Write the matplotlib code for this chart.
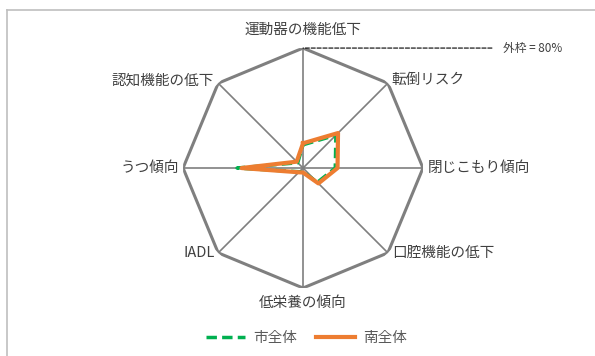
import numpy as np
import matplotlib
matplotlib.use("Agg")
import matplotlib.pyplot as plt
from matplotlib.lines import Line2D

plt.rcParams['font.family'] = ['Noto Sans CJK JP', 'DejaVu Sans']

# clockwise from top
categories = ["運動器の機能低下", "転倒リスク", "閉じこもり傾向", "口腔機能の低下",
              "低栄養の傾向", "IADL", "うつ傾向", "認知機能の低下"]
city_values = [15.5, 31, 21.5, 13.5, 2.5, 3.5, 44, 5]    # 市全体
south_values = [16.5, 33, 23, 14.5, 3, 4, 41, 6]        # 南全体
series_names = ["市全体", "南全体"]
outer_max = 80

grid_gray = "#7f7f7f"
text_gray = "#595959"
green = "#00b050"
orange = "#ed7d31"

n = len(categories)
angles = np.linspace(0, 2 * np.pi, n, endpoint=False)
closed = np.append(angles, angles[0])

fig = plt.figure(figsize=(5.95, 3.56), dpi=100)
ax = fig.add_axes([0.3076, 0.191, 0.4034, 0.674], projection="polar")
ax.set_theta_zero_location("N")
ax.set_theta_direction(-1)
ax.set_ylim(0, outer_max)
ax.set_yticks([])
ax.set_xticks(angles)
ax.set_xticklabels([])
ax.xaxis.grid(True, color=grid_gray, linewidth=1.2)
ax.yaxis.grid(False)
ax.spines["polar"].set_visible(False)
ax.patch.set_visible(False)

# outer octagon
ax.plot(closed, [outer_max] * (n + 1), color=grid_gray, linewidth=2.2, zorder=2)

ax.plot(closed, city_values + city_values[:1], color=green, linewidth=2.5,
        linestyle=(0, (3, 1.5)), label=series_names[0], zorder=3)
ax.plot(closed, south_values + south_values[:1], color=orange, linewidth=3,
        label=series_names[1], zorder=4)

# category labels (pixel offsets from each vertex)
label_pos = [((0, 18), "center", "center"), ((4, 3), "left", "center"),
             ((5, 0), "left", "center"), ((4, 0), "left", "center"),
             ((0, -15), "center", "center"), ((-3, 0), "right", "center"),
             ((-4, 0), "right", "center"), ((-4, 3), "right", "center")]
for ang, lab, (off, ha, va) in zip(angles, categories, label_pos):
    ax.annotate(lab, xy=(ang, outer_max), xytext=off, textcoords="offset pixels",
                ha=ha, va=va, fontsize=10.5, color="#404040", annotation_clip=False)

# outer frame note
ax.annotate("外枠 = 80%", xy=(0, outer_max), xytext=(200, 0), textcoords="offset pixels",
            ha="left", va="center", fontsize=8.5, color="#404040",
            arrowprops=dict(arrowstyle="-", linestyle="--", color="black", lw=0.8,
                            shrinkA=6, shrinkB=0),
            annotation_clip=False)

fig.legend(loc="center", bbox_to_anchor=(0.515, 0.05), ncol=2, frameon=False,
           fontsize=10.5, labelcolor=text_gray, handlelength=2.7, columnspacing=1.3,
           handletextpad=0.55)

# chart border (left and top edges visible)
fig.add_artist(Line2D([7 / 595, 7 / 595], [0, 1 - 10 / 356], transform=fig.transFigure,
                      color="#bfbfbf", linewidth=1.2))
fig.add_artist(Line2D([7 / 595, 1], [1 - 10 / 356, 1 - 10 / 356], transform=fig.transFigure,
                      color="#bfbfbf", linewidth=1.2))

fig.savefig("out.png", dpi=100)
